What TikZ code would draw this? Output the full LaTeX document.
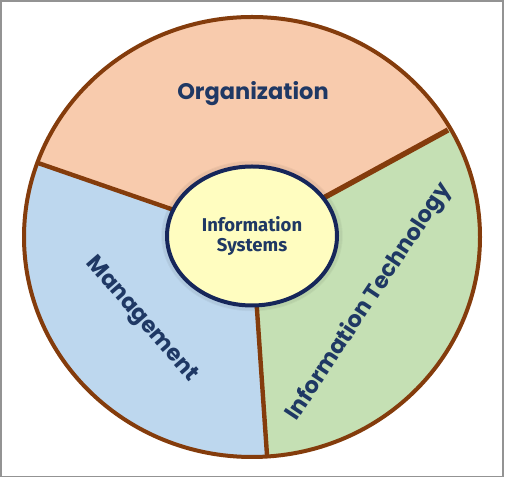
\documentclass[tikz,border=0pt]{standalone}
\usepackage{fontspec}
\usepackage{xcolor}
\newfontfamily\labelfont{Poppins}
\newfontfamily\corefont{Fira Sans}
\definecolor{rimbrown}{HTML}{843C0C}
\definecolor{orgpeach}{HTML}{F8CBAD}
\definecolor{mgmtblue}{HTML}{BDD7EE}
\definecolor{techgreen}{HTML}{C5E0B4}
\definecolor{coreyellow}{HTML}{FFFDC0}
\definecolor{navytext}{HTML}{1F3864}
\definecolor{corenavy}{HTML}{16265A}
\usetikzlibrary{positioning,shapes.geometric}

\begin{document}
\begin{tikzpicture}[
    x=1pt,y=1pt,
    sector/.style={font=\labelfont\bfseries\fontsize{22.5}{26}\selectfont,text=navytext,inner sep=0pt},
    divider/.style={draw=rimbrown,line width=4.4pt},
    core/.style={ellipse,draw=corenavy,line width=4pt,fill=coreyellow,minimum width=170pt,minimum height=139pt,
        align=center,font=\corefont\bfseries\fontsize{18.5}{23}\selectfont,text=navytext}
]
\useasboundingbox (0,0) rectangle (505,478);
\draw[color=gray!85,line width=1.6pt] (1,1.5) rectangle (503.2,476.8);
\coordinate (hub) at (252,241);
% the three sectors
\begin{scope}
  \clip (hub) ellipse [x radius=228,y radius=220];
  \fill[orgpeach] (hub) -- (-126,372) -- (-126,700) -- (603,700) -- (603,432) -- cycle;
  \fill[mgmtblue] (hub) -- (-126,372) -- (-126,-158) -- (280,-158) -- cycle;
  \fill[techgreen] (hub) -- (280,-158) -- (603,-158) -- (603,432) -- cycle;
\end{scope}
\draw[draw=rimbrown,line width=4pt] (hub) ellipse [x radius=228,y radius=220];
\draw[divider] (hub) -- (38,315);
\draw[divider,line width=5.4pt] (hub) -- (448,348);
\draw[divider] (hub) -- (267,23);
% soft shadow round the core
\foreach \g in {1,...,4}
  \draw[black,opacity=0.04,line width=1.5pt] (252,242) ellipse [x radius=86+\g,y radius=70.5+\g];
\node[core] (core) at (252,242) {Information\\[-3pt]Systems};
% sector labels
\node[sector,anchor=base] (org) at (253,378) {Organization};
\node[sector,rotate=-49] (mgmt) at (141,158) {Management};
\node[sector,rotate=56.5] (tech) at (369,176) {Information Technology};
\end{tikzpicture}
\end{document}
